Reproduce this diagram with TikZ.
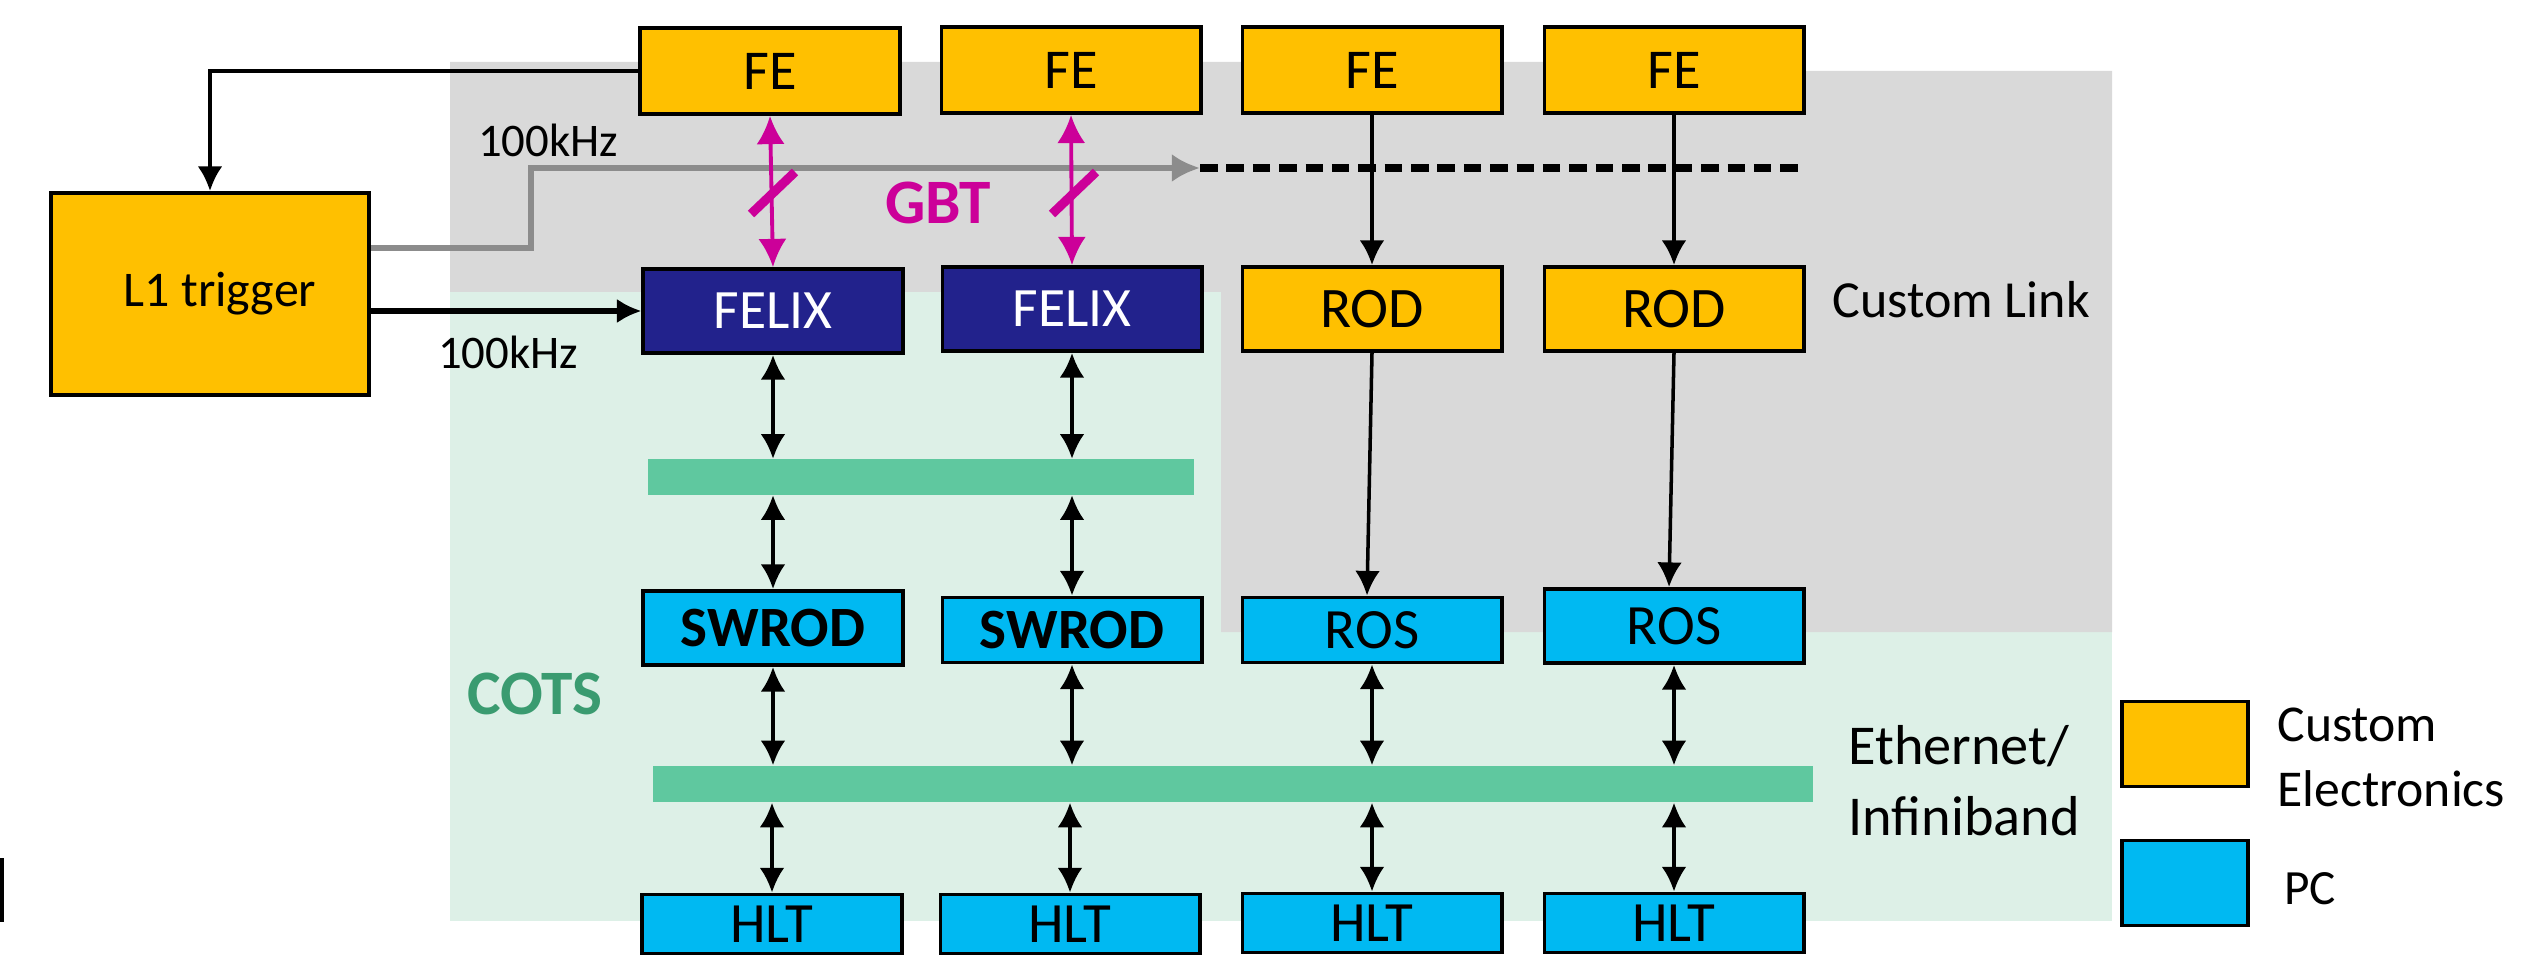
\documentclass[tikz,border=0pt]{standalone}
\usepackage{fontspec}
\setmainfont{Carlito}
\usetikzlibrary{arrows.meta}
\definecolor{gold}{HTML}{FFC000}
\definecolor{pcblue}{HTML}{00B9F2}
\definecolor{felixblue}{HTML}{22228C}
\definecolor{bggray}{HTML}{D9D9D9}
\definecolor{bggreen}{HTML}{DDF0E7}
\definecolor{bargreen}{HTML}{5FC89F}
\definecolor{cotsgreen}{HTML}{3A9B70}
\definecolor{gbtpink}{HTML}{CC0099}
\definecolor{trigray}{HTML}{8C8C8C}
\begin{document}
\begin{tikzpicture}[x=0.01cm,y=-0.01cm,
  box/.style={draw=black,line width=1.1pt,inner sep=0pt,minimum width=2.59cm,minimum height=0.86cm},
  ce/.style={box,fill=gold},
  pc/.style={box,fill=pcblue},
  felix/.style={box,fill=felixblue,text=white,minimum height=0.84cm,font=\fontsize{15.8pt}{19pt}\selectfont},
  febox/.style={ce,font=\fontsize{16pt}{19pt}\selectfont},
  rodbox/.style={ce,minimum height=0.84cm,font=\fontsize{16.3pt}{20pt}\selectfont},
  pcsmall/.style={pc,font=\fontsize{16.2pt}{19pt}\selectfont},
  bar/.style={fill=bargreen,inner sep=0pt,minimum height=0.35cm},
  link/.style={line width=1pt,-{Latex[length=7pt,width=7pt]}},
  duplex/.style={line width=1pt,{Latex[length=7pt,width=7pt]}-{Latex[length=7pt,width=7pt]}},
  gbtlink/.style={gbtpink,line width=1.1pt,{Latex[length=8pt,width=8pt]}-{Latex[length=8pt,width=8pt]}},
  lbl/.style={font=\fontsize{15.4pt}{18pt}\selectfont},
  rate/.style={font=\fontsize{13.3pt}{16pt}\selectfont}
]
\useasboundingbox (0,0) rectangle (2539,961);

% shaded regions: commodity hardware (green) and custom hardware (gray)
\fill[bggreen] (450,292) rectangle (2112,921);
\fill[bggray] (450,62) -- (1804,62) -- (1804,71) -- (2112,71) -- (2112,632)
  -- (1221,632) -- (1221,292) -- (450,292) -- cycle;
\fill[black] (0,858) rectangle (4,922);

% trigger
\node[ce,minimum width=3.18cm,minimum height=2.02cm,font=\fontsize{14.2pt}{17pt}\selectfont] (l1) at (210,294) {\hspace*{0.2cm}L1 trigger};

% front ends
\node[febox] (fe1) at (770,71) {FE};
\node[febox] (fe2) at (1071,70) {FE};
\node[febox] (fe3) at (1372,70) {FE};
\node[febox] (fe4) at (1674,70) {FE};

% readout layer
\node[felix] (felix1) at (773,311) {FELIX};
\node[felix] (felix2) at (1072,309) {FELIX};
\node[rodbox] (rod1) at (1372,309) {ROD};
\node[rodbox] (rod2) at (1674,309) {ROD};

% switches
\node[bar,minimum width=5.45cm] (bar1) at (921,477) {};
\node[bar,minimum width=11.59cm,minimum height=0.36cm] (bar2) at (1233,784) {};

% PCs
\node[pc,minimum height=0.74cm,font=\bfseries\fontsize{16.2pt}{19pt}\selectfont] (swrod1) at (773,628) {SWROD};
\node[pc,minimum height=0.65cm,font=\bfseries\fontsize{16.2pt}{19pt}\selectfont] (swrod2) at (1072,630) {SWROD};
\node[pcsmall,minimum height=0.65cm] (ros1) at (1372,630) {ROS};
\node[pcsmall,minimum height=0.74cm] (ros2) at (1674,626) {ROS};
\node[pcsmall,minimum height=0.59cm] (hlt1) at (772,924) {HLT};
\node[pcsmall,minimum height=0.59cm] (hlt2) at (1070,924) {HLT};
\node[pcsmall,minimum height=0.59cm] (hlt3) at (1372,923) {HLT};
\node[pcsmall,minimum height=0.59cm] (hlt4) at (1674,923) {HLT};

% trigger connections
\draw[link] (fe1.west) -| (l1.north);
\draw[link,line width=1.5pt] (l1.east |- felix1.west) -- (felix1.west);
\coordinate (gbend) at (531,168);
\coordinate (gtip) at (1200,168);
\draw[trigray,line width=1.6pt,-{Latex[length=8pt,width=8pt]}]
  ([yshift=4.6mm]l1.east) -| (gbend) -- (gtip);
\draw[line width=2pt,dash pattern=on 5pt off 2.5pt] (gtip) -- (gtip -| fe4.east);
\node[rate] (rate1) at (548,140) {100kHz};
\node[rate] (rate2) at (508,352) {100kHz};

% GBT links
\draw[gbtlink] (fe1.south) -- (felix1.north);
\draw[gbtlink] (fe2.south) -- (felix2.north);
\draw[gbtpink,line width=2.6pt] (751,214) -- (795,172);
\draw[gbtpink,line width=2.6pt] (1052,214) -- (1096,172);
\node[text=gbtpink,font=\bfseries\fontsize{18pt}{21pt}\selectfont] (gbt) at (938,203) {GBT};

% custom links
\draw[link] (fe3.south) -- (rod1.north);
\draw[link] (fe4.south) -- (rod2.north);
\draw[link] (rod1.south) -- ([xshift=-0.05cm]ros1.north);
\draw[link] (rod2.south) -- ([xshift=-0.05cm]ros2.north);
\node[lbl,anchor=west,font=\fontsize{14.8pt}{18pt}\selectfont] (customlink) at (1820,300) {Custom Link};

% network links
\foreach \n in {felix1,felix2}
  \draw[duplex] (\n.south) -- (\n.south |- bar1.north);
\foreach \n in {swrod1,swrod2}
  \draw[duplex] (\n.north |- bar1.south) -- (\n.north);
\foreach \n in {swrod1,swrod2,ros1,ros2}
  \draw[duplex] (\n.south) -- (\n.south |- bar2.north);
\foreach \n in {hlt1,hlt2,hlt3,hlt4}
  \draw[duplex] (\n.north |- bar2.south) -- (\n.north);
\node[anchor=west,align=left,font=\fontsize{16pt}{20.2pt}\selectfont] (eth) at (1836,781) {Ethernet/\\Infiniband};
\node[text=cotsgreen,font=\bfseries\fontsize{18pt}{21pt}\selectfont] (cots) at (535,694) {COTS};

% legend
\node[ce,minimum width=1.26cm,minimum height=0.85cm] (legce) at (2185,744) {};
\node[pc,minimum width=1.26cm,minimum height=0.85cm] (legpc) at (2185,883) {};
\node[anchor=west,align=left,font=\fontsize{14.7pt}{18.5pt}\selectfont] (legcetext) at (2265,757) {Custom\\Electronics};
\node[anchor=west,font=\fontsize{14pt}{17pt}\selectfont] (legpctext) at (2272,889) {PC};
\end{tikzpicture}
\end{document}
